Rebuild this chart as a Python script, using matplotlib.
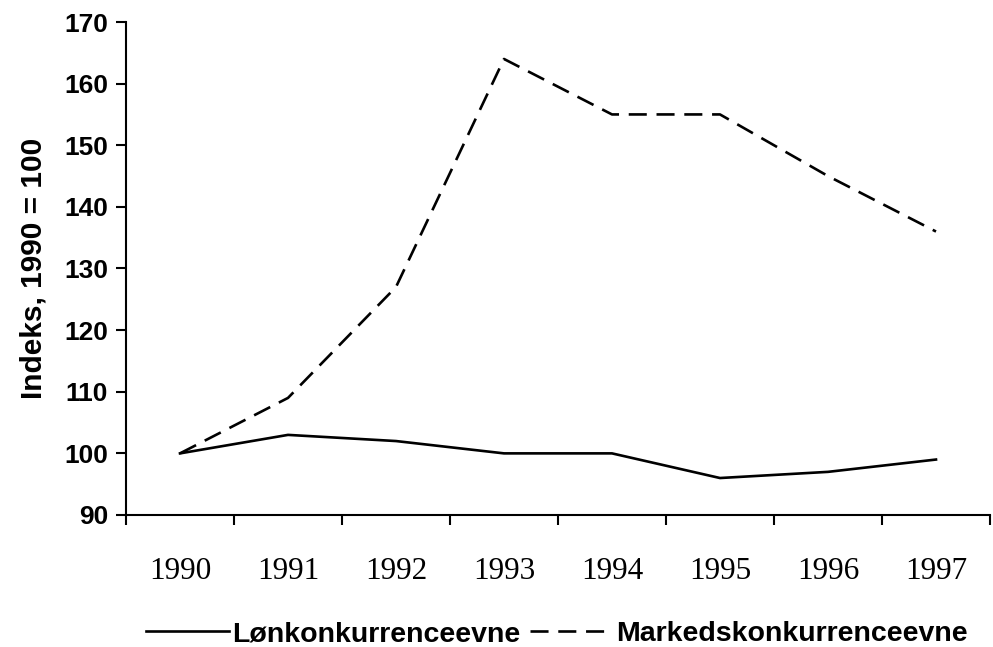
import matplotlib
matplotlib.use("Agg")
import matplotlib.pyplot as plt

years = ["1990", "1991", "1992", "1993", "1994", "1995", "1996", "1997"]
lon = [100, 103, 102, 100, 100, 96, 97, 99]
marked = [100, 109, 127, 164, 155, 155, 145, 136]
series_names = ["Lønkonkurrenceevne", "Markedskonkurrenceevne"]
yticks = [90, 100, 110, 120, 130, 140, 150, 160, 170]

plt.rcParams['lines.scale_dashes'] = False
sans = ["Liberation Sans", "DejaVu Sans"]
serif = ["Liberation Serif", "DejaVu Serif"]

fig = plt.figure(figsize=(9.93, 6.47), dpi=100)
ax = fig.add_axes([126/993, 1 - 515/647, (990-126)/993, (515-22)/647])

x = list(range(len(years)))
ax.plot(x, lon, color="black", lw=1.9, label=series_names[0])
ax.plot(x, marked, color="black", lw=1.9, dashes=(13, 7), label=series_names[1])

ax.set_xlim(-0.5, len(years) - 0.5)
ax.set_ylim(90, 170)
ax.set_yticks(yticks)
ax.set_yticklabels([str(v) for v in yticks], fontfamily=sans, fontweight="bold", fontsize=19)
ax.set_xticks([i - 0.5 for i in range(len(years) + 1)])
ax.set_xticklabels([])
ax.set_xticks(x, minor=True)
ax.set_xticklabels(years, minor=True, fontfamily=serif, fontsize=22.5)
ax.tick_params(axis="x", which="minor", length=0, pad=30)
ax.tick_params(axis="x", which="major", direction="out", length=7, width=1.5)
ax.tick_params(axis="y", direction="out", length=7, width=1.5, pad=6)
for s in ["top", "right"]:
    ax.spines[s].set_visible(False)
for s in ["left", "bottom"]:
    ax.spines[s].set_linewidth(1.5)

ax.set_ylabel("Indeks, 1990 = 100", fontfamily=sans, fontweight="bold", fontsize=21.5, labelpad=12)

leg = fig.legend(loc="center", bbox_to_anchor=(557/993, 1 - 634/647), ncol=2, frameon=False,
                 handlelength=2.9, handletextpad=0.12, columnspacing=0.35,
                 prop={"family": sans, "weight": "bold", "size": 20.5})

fig.savefig("out.png", dpi=100)
